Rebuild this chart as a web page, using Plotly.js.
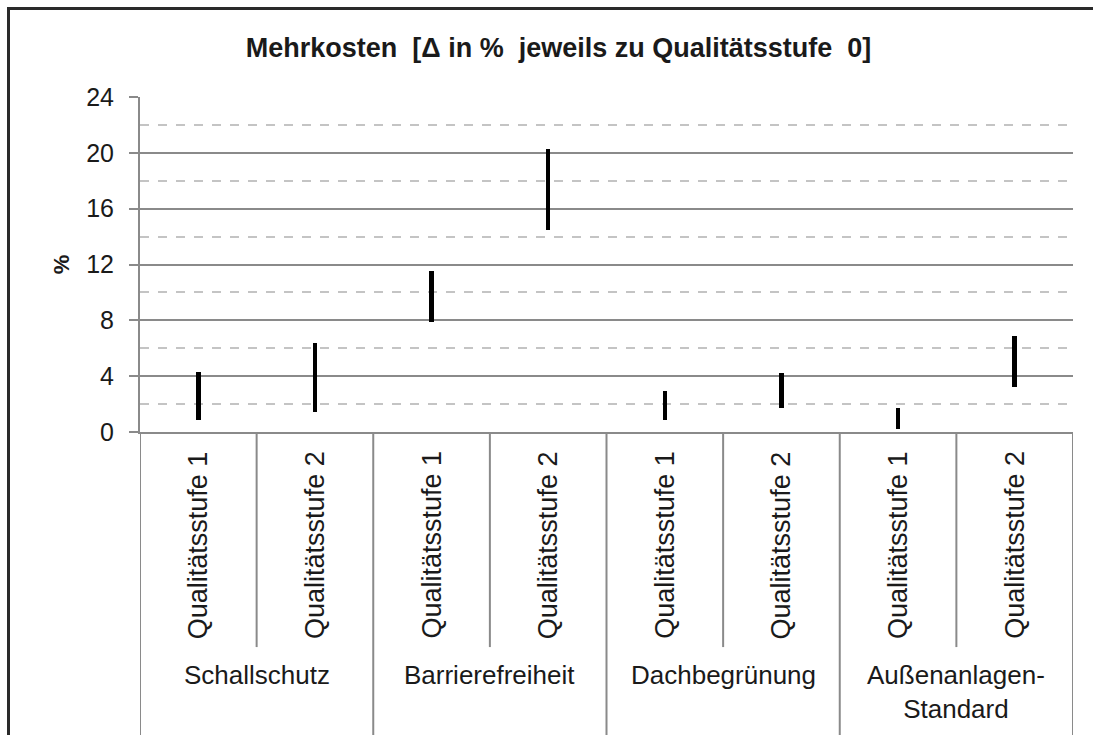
<!DOCTYPE html>
<html>
<head>
<meta charset="utf-8">
<script src="https://cdn.plot.ly/plotly-3.0.1.min.js"></script>
<style>
  html, body { margin: 0; padding: 0; background: #fff; }
  #chart { width: 1093px; height: 735px; position: relative; }
  #frame { position: absolute; left: 7px; top: 7px; width: 1200px; height: 900px;
           border-left: 3px solid #2a2a2a; border-top: 3px solid #2a2a2a; pointer-events: none; }
</style>
</head>
<body>
<div id="chart"></div>
<div id="frame"></div>
<script>
// ---- data ----
const groups = ["Schallschutz", "Schallschutz", "Barrierefreiheit", "Barrierefreiheit",
                "Dachbegrünung", "Dachbegrünung", "Außenanlagen-<br>Standard", "Außenanlagen-<br>Standard"];
const levels = ["Qualitätsstufe 1", "Qualitätsstufe 2", "Qualitätsstufe 1", "Qualitätsstufe 2",
                "Qualitätsstufe 1", "Qualitätsstufe 2", "Qualitätsstufe 1", "Qualitätsstufe 2"];
const lowValues  = [0.85, 1.4, 7.9, 14.5, 0.85, 1.7, 0.25, 3.2];
const highValues = [4.3, 6.4, 11.5, 20.3, 2.95, 4.2, 1.75, 6.85];
const yTicks = [0, 4, 8, 12, 16, 20, 24];
const chartTitle = "Mehrkosten  [Δ in %  jeweils zu Qualitätsstufe  0]";
const yTitle = "%";

// ---- derived ----
const xIdx = levels.map((_, i) => i);
const spans = highValues.map((h, i) => h - lowValues[i]);

const FONT = "Liberation Sans, Arial, sans-serif";
const GRID = "#8a8a8a";

const trace = {
  type: "bar",
  x: xIdx,
  y: spans,
  base: lowValues,
  width: 0.038,
  marker: { color: "#000000", line: { width: 0 } },
  hoverinfo: "skip",
  showlegend: false
};

// group boundaries & labels
const shapes = [];
const annotations = [];
const groupStarts = [];
groups.forEach((g, i) => { if (i === 0 || groups[i - 1] !== g) groupStarts.push(i); });
// group dividers (long)
groupStarts.concat([groups.length]).forEach(s => {
  shapes.push({ type: "line", xref: "x", yref: "paper", x0: s - 0.5, x1: s - 0.5,
                y0: 0, y1: -1.0, line: { color: GRID, width: 2 } });
});
// sub dividers (short) inside groups
xIdx.forEach(i => {
  if (i > 0 && groups[i - 1] === groups[i]) {
    shapes.push({ type: "line", xref: "x", yref: "paper", x0: i - 0.5, x1: i - 0.5,
                  y0: 0, y1: -0.642, line: { color: GRID, width: 2 } });
  }
});
// sub labels
xIdx.forEach(i => {
  annotations.push({ text: levels[i], x: i, xref: "x", y: 0, yref: "paper",
    yanchor: "top", xanchor: "center", yshift: -17, textangle: -90, showarrow: false,
    font: { family: FONT, size: 27, color: "#1a1a1a" } });
});
// group labels
groupStarts.forEach((s, k) => {
  const e = (k + 1 < groupStarts.length ? groupStarts[k + 1] : groups.length) - 1;
  annotations.push({ text: groups[s], x: (s + e) / 2, xref: "x", y: 0, yref: "paper",
    yanchor: "top", xanchor: "center", yshift: -226, showarrow: false,
    font: { family: FONT, size: 26, color: "#1a1a1a" } });
});

const layout = {
  width: 1093, height: 735,
  margin: { l: 140, r: 20, t: 97, b: 303, pad: 0 },
  paper_bgcolor: "#ffffff", plot_bgcolor: "#ffffff",
  font: { family: FONT, color: "#1a1a1a" },
  title: { text: chartTitle, font: { family: FONT, size: 27, color: "#1a1a1a", weight: "bold" },
           xref: "container", x: 0.511, xanchor: "center", yref: "container", y: 1 - 48 / 735, yanchor: "middle" },
  xaxis: { type: "linear", range: [-0.5, 7.5], showticklabels: false, ticks: "", showgrid: false,
           zeroline: false, showline: true, linecolor: GRID, linewidth: 2, fixedrange: true },
  yaxis: { range: [0, 24], tickvals: yTicks, ticktext: yTicks.map(String), ticks: "outside", ticklen: 9,
           tickwidth: 2, tickcolor: GRID, showline: true, linecolor: GRID, linewidth: 2,
           showgrid: true, gridcolor: GRID, gridwidth: 2, zeroline: false,
           tickfont: { family: FONT, size: 25, color: "#1a1a1a" }, ticklabelstandoff: 10,
           minor: { tick0: 0, dtick: 2, showgrid: true, gridcolor: "#c4c4c4", gridwidth: 2, griddash: "dash", ticks: "" },
           title: { text: yTitle, font: { family: FONT, size: 22, color: "#1a1a1a", weight: "bold" }, standoff: 10 } },
  shapes: shapes,
  annotations: annotations,
  bargap: 0
};

Plotly.newPlot("chart", [trace], layout, { displayModeBar: false, staticPlot: true });
</script>
</body>
</html>
